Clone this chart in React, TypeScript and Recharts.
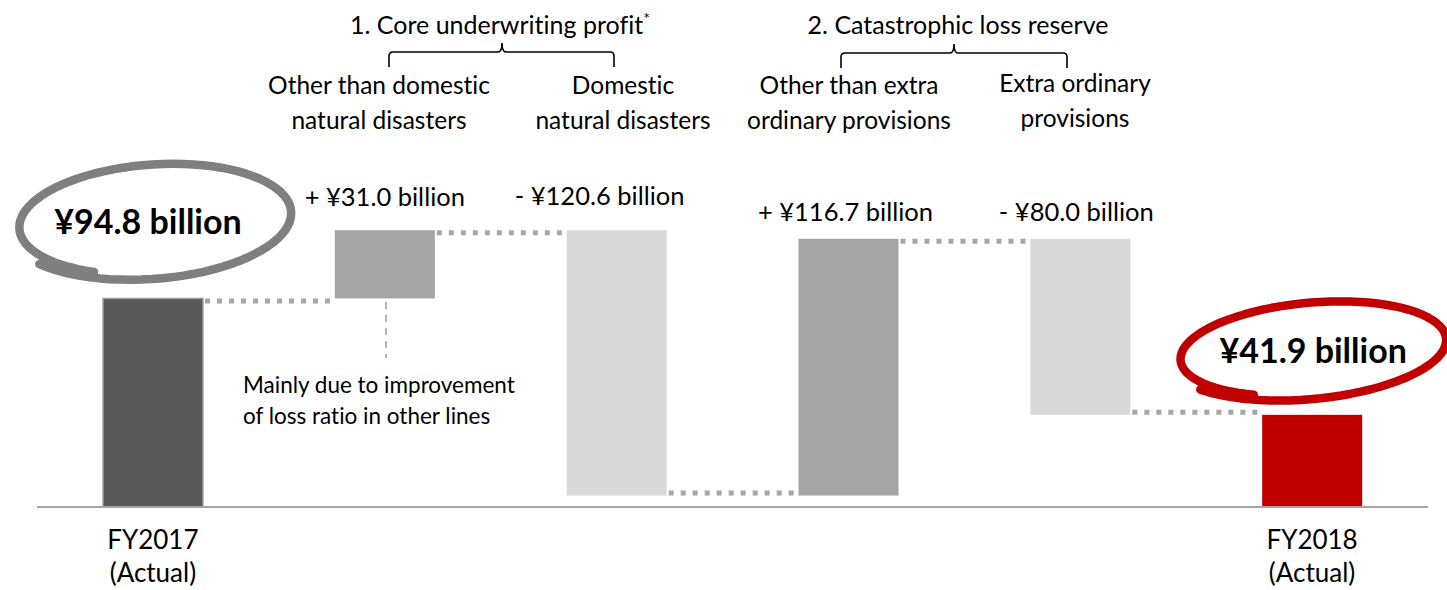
import React from 'react';
import { BarChart, Bar, XAxis, YAxis, LabelList } from 'recharts';

// ---------- data ----------
const categories = ['FY2017', 'coreOther', 'coreDomestic', 'catOther', 'catExtra', 'FY2018'];
const tickLines = [['FY2017', '(Actual)'], [], [], [], [], ['FY2018', '(Actual)']];
const amounts = [94.8, 31.0, 120.6, 116.7, 80.0, 41.9];
const kinds = ['total', 'up', 'down', 'up', 'down', 'total'];
const valueLabels = ['¥94.8 billion', '+ ¥31.0 billion', '- ¥120.6 billion', '+ ¥116.7 billion', '- ¥80.0 billion', '¥41.9 billion'];
const groupTitles = ['1. Core underwriting profit', '2. Catastrophic loss reserve'];
const subLabels = [
  ['Other than domestic', 'natural disasters'],
  ['Domestic', 'natural disasters'],
  ['Other than extra', 'ordinary provisions'],
  ['Extra ordinary', 'provisions'],
];
const noteLines = ['Mainly due to improvement', 'of loss ratio in other lines'];

// ---------- styles / layout ----------
const W = 1447;
const H = 590;
const FONT = 'Lato, "Open Sans", sans-serif';
const COLORS = ['#595959', '#a5a5a5', '#d9d9d9', '#a5a5a5', '#d9d9d9', '#c00000'];
const PLOT_LEFT = 37;
const PLOT_RIGHT = 19;
const PLOT_W = W - PLOT_LEFT - PLOT_RIGHT;
const BAR = 100;
const GAP = PLOT_W / categories.length - BAR;
const LABEL_DX = [-5, 0, -17, -3, -4, 1];
const LABEL_UP = [64, 24, 25, 18, 18, 52];
const RING = [
  { dx: -1, dy: -78, rx: 139, ry: 57, rot: -4, color: '#7f7f7f' },
  { dx: -2, dy: -65, rx: 136, ry: 48, rot: -5, color: '#c00000' },
];

let running = 0;
const data = categories.map((cat, i) => {
  const k = kinds[i];
  const a = amounts[i];
  let base = 0;
  if (k === 'up') base = running;
  else if (k === 'down') base = running - a;
  running = k === 'total' ? a : k === 'up' ? running + a : running - a;
  return { cat, base, value: a };
});

function loopPath(cx: number, cy: number, rx: number, ry: number, rotDeg: number) {
  const rot = (rotDeg * Math.PI) / 180;
  const start = (118 * Math.PI) / 180;
  const sweep = (385 * Math.PI) / 180;
  const n = 90;
  let d = '';
  for (let s = 0; s <= n; s++) {
    const t = s / n;
    const a = start + sweep * t;
    const k = 0.94 + 0.1 * t;
    const px = rx * k * Math.cos(a);
    const py = ry * k * Math.sin(a);
    const x = cx + px * Math.cos(rot) - py * Math.sin(rot);
    const y = cy + px * Math.sin(rot) + py * Math.cos(rot);
    d += (s === 0 ? 'M' : 'L') + x.toFixed(1) + ',' + y.toFixed(1);
  }
  return d;
}

const WaterfallBar = (props: any) => {
  const { x, y, width, height, index } = props;
  const kind = kinds[index];
  const lineY = kind === 'down' ? y + height - 2.5 : y + 2.5;
  return (
    <g>
      <rect
        x={x}
        y={y}
        width={width}
        height={height}
        fill={COLORS[index]}
        stroke={index === 0 ? '#a0a0a0' : 'none'}
        strokeWidth={1.5}
      />
      {index < categories.length - 1 && (
        <line
          x1={x + width + 2}
          x2={x + width + GAP - 1}
          y1={lineY}
          y2={lineY}
          stroke="#a6a6a6"
          strokeWidth={5}
          strokeDasharray="5 7"
        />
      )}
    </g>
  );
};

const ValueLabel = (props: any) => {
  const { x, y, width, index } = props;
  const cx = x + width / 2;
  if (kinds[index] === 'total') {
    const r = RING[index === 0 ? 0 : 1];
    return (
      <g>
        <path
          d={loopPath(cx + r.dx, y + r.dy, r.rx, r.ry, r.rot)}
          fill="none"
          stroke={r.color}
          strokeWidth={8.5}
          strokeLinecap="round"
          strokeLinejoin="round"
        />
        <text
          x={cx + LABEL_DX[index]}
          y={y - LABEL_UP[index]}
          textAnchor="middle"
          fontFamily={FONT}
          fontWeight={700}
          fontSize={34}
          fill="#000"
        >
          {valueLabels[index]}
        </text>
      </g>
    );
  }
  return (
    <text
      x={cx + LABEL_DX[index]}
      y={y - LABEL_UP[index]}
      textAnchor="middle"
      fontFamily={FONT}
      fontSize={25.5}
      fill="#000"
    >
      {valueLabels[index]}
    </text>
  );
};

const Tick = (props: any) => {
  const { x, payload } = props;
  const i = categories.indexOf(payload.value);
  const lines = tickLines[i] || [];
  return (
    <g>
      {lines.map((t, j) => (
        <text key={j} x={x} y={549 + j * 33} textAnchor="middle" fontFamily={FONT} fontSize={26} fill="#000">
          {t}
        </text>
      ))}
    </g>
  );
};

const Brace = ({ x1, x2, xm, y }: { x1: number; x2: number; xm: number; y: number }) => (
  <path
    d={`M${x1},${y + 15} L${x1},${y + 4} Q${x1},${y} ${x1 + 4},${y} L${xm - 4},${y} Q${xm},${y} ${xm},${y - 9} Q${xm},${y} ${xm + 4},${y} L${x2 - 4},${y} Q${x2},${y} ${x2},${y + 4} L${x2},${y + 15}`}
    fill="none"
    stroke="#000"
    strokeWidth={1.6}
  />
);

const subCenters = [379, 623, 849, 1075];
const subBase = [94, 94, 94, 92];

export default function App() {
  return (
    <div
      style={{
        position: 'absolute',
        left: 0,
        top: 0,
        width: W,
        height: H,
        background: '#fff',
        fontVariantLigatures: 'none',
      }}
    >
      <BarChart
        width={W}
        height={H}
        data={data}
        margin={{ top: 67, right: PLOT_RIGHT, bottom: 3, left: PLOT_LEFT }}
        barSize={BAR}
      >
        <YAxis hide domain={[0, 200]} allowDataOverflow />
        <XAxis
          dataKey="cat"
          height={80}
          interval={0}
          tickLine={false}
          axisLine={{ stroke: '#a6a6a6', strokeWidth: 2 }}
          tick={<Tick />}
        />
        <Bar dataKey="base" stackId="w" fill="none" isAnimationActive={false} />
        <Bar dataKey="value" stackId="w" shape={<WaterfallBar />} isAnimationActive={false}>
          <LabelList dataKey="value" content={<ValueLabel />} />
        </Bar>
      </BarChart>
      <svg
        width={W}
        height={H}
        style={{ position: 'absolute', left: 0, top: 0, pointerEvents: 'none' }}
      >
        <text x={500} y={34} textAnchor="middle" fontFamily={FONT} fontSize={25} fill="#000">
          {groupTitles[0]}
          <tspan dy={-10} fontSize={16}>*</tspan>
        </text>
        <text x={958} y={34} textAnchor="middle" fontFamily={FONT} fontSize={25} fill="#000">
          {groupTitles[1]}
        </text>
        <Brace x1={389} x2={614} xm={502} y={52} />
        <Brace x1={841} x2={1067} xm={954} y={53} />
        {subLabels.map((lines, i) =>
          lines.map((t, j) => (
            <text
              key={i + '-' + j}
              x={subCenters[i]}
              y={subBase[i] + j * 35}
              textAnchor="middle"
              fontFamily={FONT}
              fontSize={24.5}
              fill="#000"
            >
              {t}
            </text>
          ))
        )}
        <line x1={386} x2={386} y1={302} y2={358} stroke="#a0a0a0" strokeWidth={1.5} strokeDasharray="7 6" />
        {noteLines.map((t, j) => (
          <text key={j} x={243} y={393 + j * 31} fontFamily={FONT} fontSize={22.5} fill="#000">
            {t}
          </text>
        ))}
      </svg>
    </div>
  );
}
